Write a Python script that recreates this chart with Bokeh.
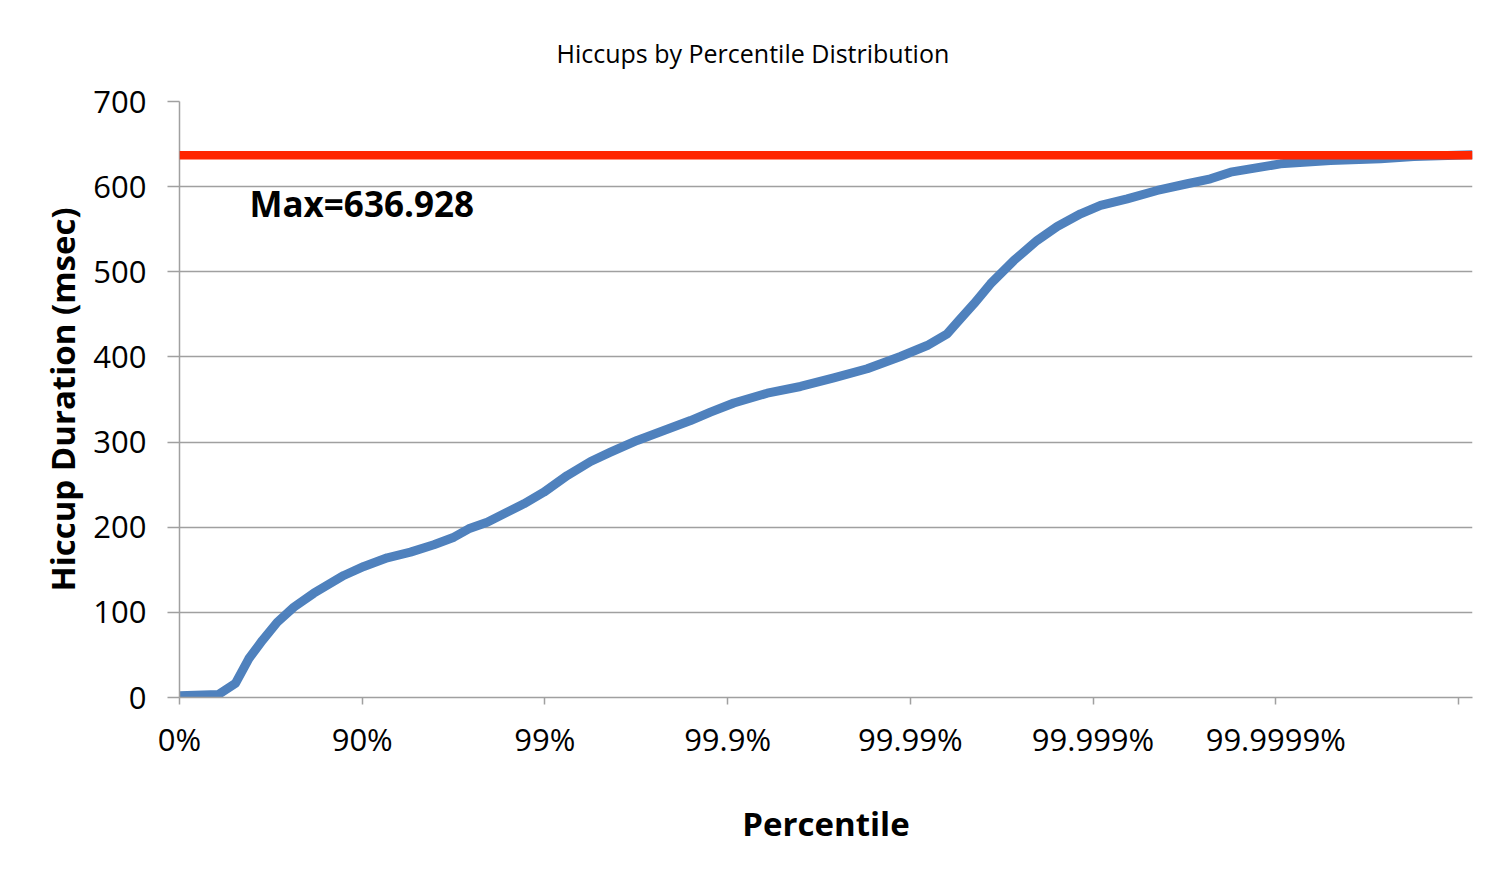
from bokeh.plotting import figure
from bokeh.models import Range1d, Span, Label, FixedTicker, Title
from bokeh.embed import file_html
from bokeh.resources import INLINE

# x = log10(1/(1-percentile)) ; y = hiccup duration in msec
pct_x = [0.000, 0.213, 0.307, 0.379, 0.453, 0.535, 0.626, 0.735, 0.899, 1.009,
         1.137, 1.264, 1.392, 1.502, 1.583, 1.684, 1.885, 1.994, 2.122, 2.250,
         2.359, 2.505, 2.651, 2.797, 2.906, 3.034, 3.217, 3.399, 3.581, 3.764,
         3.946, 4.092, 4.202, 4.266, 4.348, 4.439, 4.567, 4.694, 4.804, 4.932,
         5.041, 5.187, 5.351, 5.516, 5.643, 5.753, 6.026, 6.300, 6.574, 6.756,
         7.077]
hiccup_ms = [2.0, 3.5, 16.8, 45.5, 66.9, 88.4, 106.1, 122.5, 143.3, 153.9,
             164.1, 170.7, 179.4, 188.3, 198.1, 205.9, 227.5, 241.1, 260.7, 277.2,
             288.1, 301.9, 313.6, 325.3, 335.1, 345.9, 357.4, 365.3, 375.5, 386.1,
             400.5, 413.4, 427.2, 442.8, 462.4, 485.9, 513.3, 536.8, 553.2, 568.1,
             577.9, 585.7, 595.5, 603.4, 609.2, 617.0, 626.8, 630.8, 632.7, 635.4,
             637.5]
max_value = 636.928
x_ticks = [0, 1, 2, 3, 4, 5, 6, 7]
x_tick_labels = ["0%", "90%", "99%", "99.9%", "99.99%", "99.999%", "99.9999%", ""]
y_ticks = [0, 100, 200, 300, 400, 500, 600, 700]

FONT = "Open Sans"
GRID = "#A0A0A0"

p = figure(width=1487, height=867, output_backend="svg", toolbar_location=None,
           x_range=Range1d(0, 7.077), y_range=Range1d(0, 700),
           min_border_left=179, min_border_right=15, min_border_top=101, min_border_bottom=170)
p.outline_line_color = None
p.background_fill_color = "white"
p.border_fill_color = "white"

p.title = Title(text="Hiccups by Percentile Distribution", align="left", offset=377,
                text_font=FONT, text_font_size="25px", text_font_style="normal",
                text_color="black", standoff=63)

p.xgrid.grid_line_color = None
p.ygrid.grid_line_color = GRID
p.ygrid.grid_line_width = 1.5

p.xaxis.ticker = FixedTicker(ticks=x_ticks)
p.xaxis.major_label_overrides = {t: l for t, l in zip(x_ticks, x_tick_labels)}
p.yaxis.ticker = FixedTicker(ticks=y_ticks)

for ax in (p.xaxis, p.yaxis):
    ax.axis_line_color = GRID
    ax.axis_line_width = 1.5
    ax.major_tick_line_color = GRID
    ax.major_tick_line_width = 1.5
    ax.minor_tick_line_color = None
    ax.major_tick_in = 0
    ax.major_label_text_font = FONT
    ax.major_label_text_font_size = "31px"
    ax.major_label_text_color = "black"
    ax.axis_label_text_font = FONT
    ax.axis_label_text_font_size = "33px"
    ax.axis_label_text_font_style = "bold"
    ax.axis_label_text_color = "black"

p.xaxis.major_tick_out = 7
p.yaxis.major_tick_out = 12
p.xaxis.major_label_standoff = 13
p.yaxis.major_label_standoff = 21
p.xaxis.axis_label = "Percentile"
p.yaxis.axis_label = "Hiccup Duration (msec)"
p.xaxis.axis_label_standoff = 38
p.yaxis.axis_label_standoff = 5

p.line(pct_x, hiccup_ms, line_color="#4F81BD", line_width=9, line_join="round")
p.add_layout(Span(location=max_value, dimension="width", line_color="#FF2600", line_width=8.5))
p.add_layout(Label(x=0.383, y=580, text="Max=" + str(max_value), text_font=FONT,
                   text_font_size="35px", text_font_style="bold", text_color="black",
                   text_baseline="middle", text_align="left"))

open("out.html", "w").write(file_html(p, INLINE))
